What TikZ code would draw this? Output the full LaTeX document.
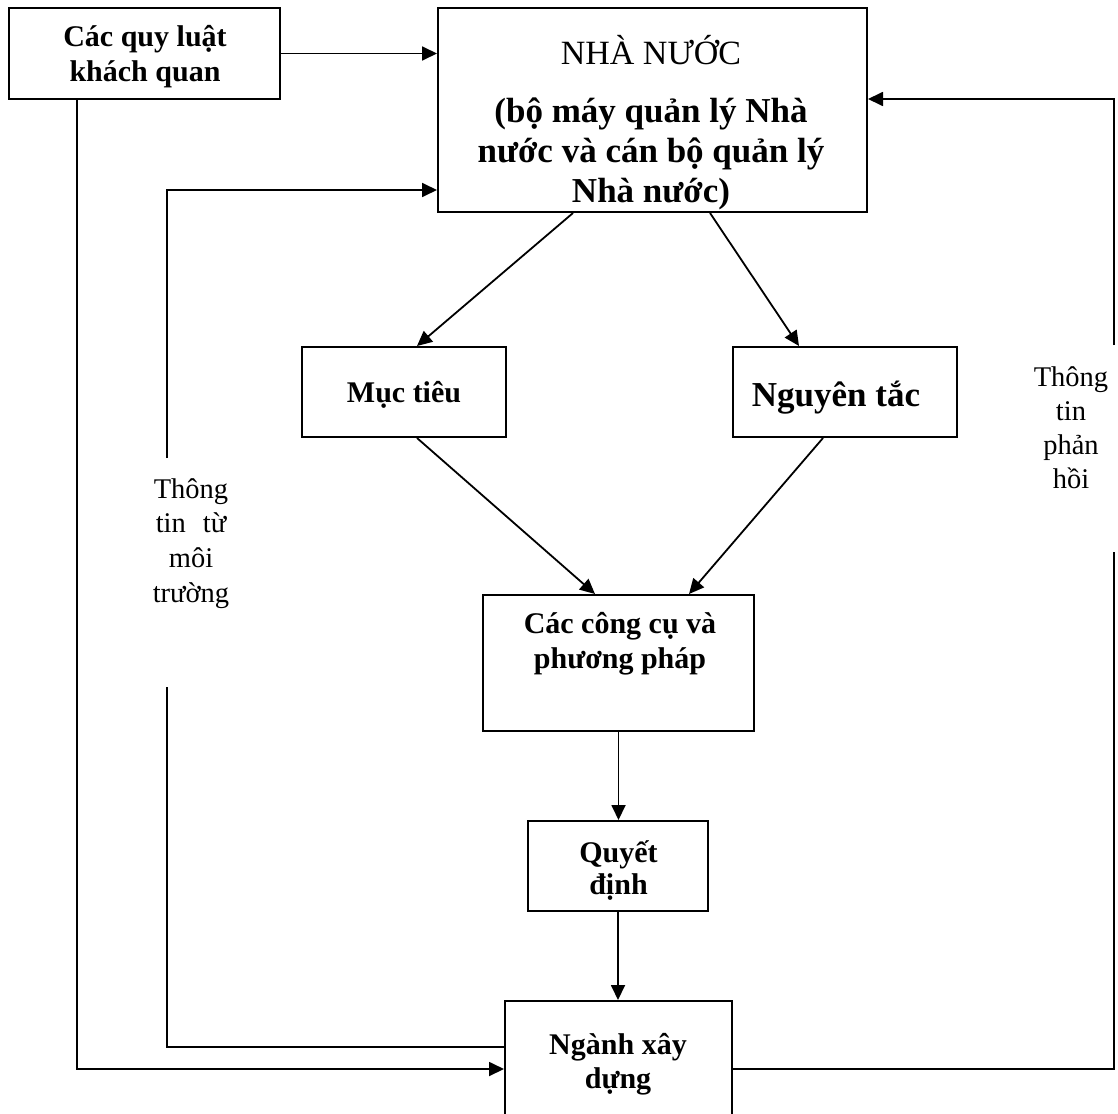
\documentclass[tikz,border=0pt]{standalone}
\usepackage{fontspec}
\setmainfont{Liberation Serif}
\usetikzlibrary{arrows.meta,calc}

% centred lines with a fixed baseline-to-baseline distance; the baseline of
% the whole block is that of its first line
\newcommand{\textlines}[1]{\vtop{\lineskiplimit=-1000pt\lineskip=0pt\halign{\hfil##\hfil\cr#1\crcr}}}

\tikzset{
  box/.style={draw, line width=2pt, rectangle, inner sep=0pt},
  conn/.style={line width=1.8pt},
  arr/.style={conn, -{Triangle[length=15pt,width=14pt]}},
  boldtxt/.style={inner sep=0pt, anchor=base, font=\bfseries\fontsize{30}{35}\selectfont},
  plaintxt/.style={inner sep=0pt, anchor=base, font=\fontsize{28.5}{34.5}\selectfont},
}

\begin{document}
\begin{tikzpicture}[x=1pt, y=-1pt]
  \useasboundingbox (0,0) rectangle (1118,1113);
  \clip (0,0) rectangle (1118,1113);
  \fill[white] (0,0) rectangle (1118,1113);

  % boxes
  \node[box, minimum width=271pt, minimum height=91pt]  (law)       at (144.5,53.5) {};
  \node[box, minimum width=429pt, minimum height=204pt] (state)     at (652.5,110)  {};
  \node[box, minimum width=204pt, minimum height=90pt]  (goal)      at (404,392)    {};
  \node[box, minimum width=224pt, minimum height=90pt]  (principle) at (845,392)    {};
  \node[box, minimum width=271pt, minimum height=136pt] (tools)     at (618.5,663)  {};
  \node[box, minimum width=180pt, minimum height=90pt]  (decision)  at (618,866)    {};
  \node[box, minimum width=227pt, minimum height=149pt] (industry)  at (618.5,1075.5) {};

  % box texts
  \node[boldtxt] (lawT) at (145,47) {\textlines{Các quy luật\cr khách quan}};
  \node[inner sep=0pt, anchor=base, font=\fontsize{34}{40}\selectfont] (stateT) at (651,65) {NHÀ NƯỚC};
  \node[inner sep=0pt, anchor=base, font=\bfseries\fontsize{35}{39.5}\selectfont] (stateSub) at (651,123)
    {\textlines{(bộ máy quản lý Nhà\cr nước và cán bộ quản lý\cr Nhà nước)}};
  \node[boldtxt] (goalT) at (404,402) {Mục tiêu};
  \node[inner sep=0pt, anchor=base, font=\bfseries\fontsize{35}{40}\selectfont] (principleT) at (836,406) {Nguyên tắc};
  \node[boldtxt] (toolsT) at (620,633) {\textlines{Các công cụ và\cr phương pháp}};
  \node[boldtxt, font=\bfseries\fontsize{30}{32}\selectfont] (decisionT) at (618.5,862) {\textlines{Quyết\cr định}};
  \node[boldtxt, font=\bfseries\fontsize{30}{34}\selectfont] (industryT) at (618,1054) {\textlines{Ngành xây\cr dựng}};

  % side labels
  \node[plaintxt, font=\fontsize{28.5}{34.7}\selectfont] (envT) at (191,498)
    {\textlines{Thông\cr tin\hspace{17pt}từ\cr môi\cr trường}};
  \node[plaintxt, font=\fontsize{28.5}{34}\selectfont] (fbT) at (1071,386)
    {\textlines{Thông\cr tin\cr phản\cr hồi}};

  % objective laws -> state
  \draw[arr] (law.east) -- (law.east -| state.west);

  % objective laws -> construction sector
  \coordinate (outerTurn) at (77,1069);
  \draw[arr] (law.south -| outerTurn) -- (outerTurn) -- (outerTurn -| industry.west);

  % information from the environment
  \coordinate (envTurnLow)  at (167,1047);
  \coordinate (envGapLow)   at (167,687);
  \coordinate (envGapHigh)  at (167,458);
  \coordinate (envTurnHigh) at (167,190);
  \draw[conn] (envTurnLow -| industry.west) -- (envTurnLow) -- (envGapLow);
  \draw[arr] (envGapHigh) -- (envTurnHigh) -- (envTurnHigh -| state.west);

  % feedback
  \coordinate (fbTurnLow)  at (1114,1069);
  \coordinate (fbGapLow)   at (1114,552);
  \coordinate (fbGapHigh)  at (1114,345);
  \coordinate (fbTurnHigh) at (1114,99);
  \draw[conn] (fbTurnLow -| industry.east) -- (fbTurnLow) -- (fbGapLow);
  \draw[arr] (fbGapHigh) -- (fbTurnHigh) -- (fbTurnHigh -| state.east);

  % main flow
  \draw[arr] ([xshift=-79.5pt]state.south) -- ([xshift=13pt]goal.north);
  \draw[arr] ([xshift=57.5pt]state.south) -- ([xshift=-46pt]principle.north);
  \draw[arr] ([xshift=13pt]goal.south) -- ([xshift=-23.5pt]tools.north);
  \draw[arr] ([xshift=-22pt]principle.south) -- ([xshift=70.5pt]tools.north);
  \draw[arr] (tools.south) -- (tools.south |- decision.north);
  \draw[arr] (decision.south) -- (decision.south |- industry.north);
\end{tikzpicture}
\end{document}
